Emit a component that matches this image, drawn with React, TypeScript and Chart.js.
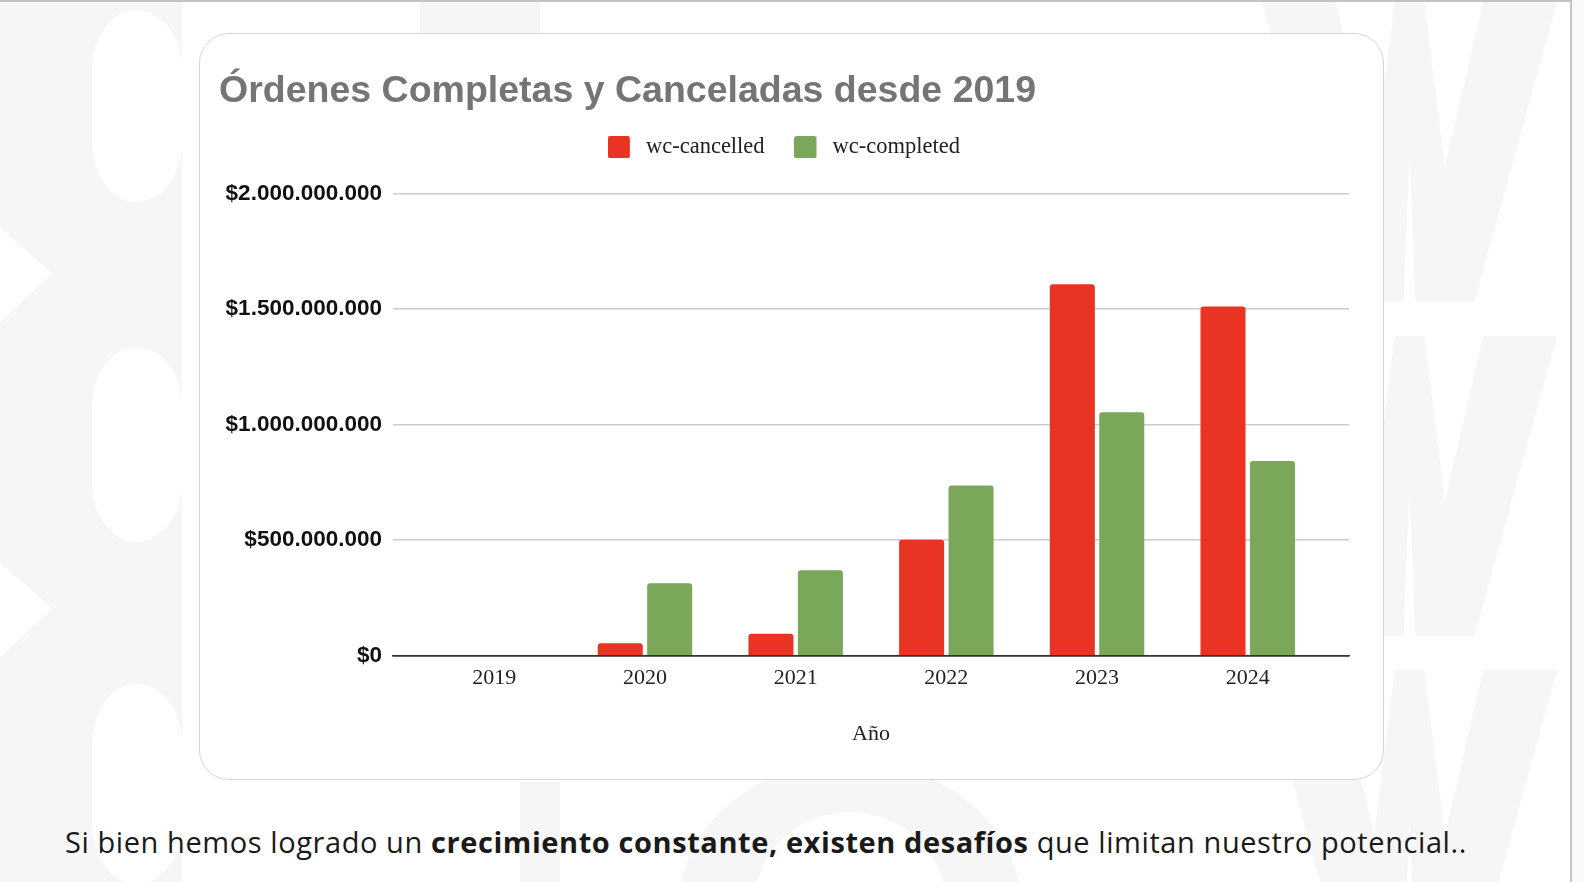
import React, { useEffect, useRef } from "react";
import { Chart, registerables } from "chart.js";

Chart.register(...registerables);

const years = ["2019", "2020", "2021", "2022", "2023", "2024"];
const cancelled = [0, 54000000, 95000000, 502000000, 1607000000, 1511000000];
const completed = [0, 314000000, 370000000, 737000000, 1054000000, 843000000];
const yTickValues = [0, 500000000, 1000000000, 1500000000, 2000000000];
const titleText = "Órdenes Completas y Canceladas desde 2019";
const seriesNames = ["wc-cancelled", "wc-completed"];
const xTitle = "Año";

const RED = "#E93424";
const GREEN = "#7AA75A";
const seriesColors = [RED, GREEN];

function fmtMoney(v: number) {
  return "$" + String(Math.round(v)).replace(/\B(?=(\d{3})+(?!\d))/g, ".");
}

function makeSwatch(color: string) {
  const c = document.createElement("canvas");
  c.width = 27;
  c.height = 22;
  const g = c.getContext("2d");
  if (g) {
    g.fillStyle = color;
    g.beginPath();
    if ((g as any).roundRect) (g as any).roundRect(0, 0, 22, 22, 2);
    else g.rect(0, 0, 22, 22);
    g.fill();
  }
  return c;
}

function ChartCard() {
  const ref = useRef<HTMLCanvasElement | null>(null);
  useEffect(() => {
    if (!ref.current) return;
    const swatches = seriesColors.map(makeSwatch);
    const baseGen = (Chart as any).defaults.plugins.legend.labels.generateLabels;
    const chart = new Chart(ref.current, {
      type: "bar",
      data: {
        datasets: [
          {
            label: seriesNames[0],
            data: cancelled.map((v, i) => ({ x: i, y: v })),
            backgroundColor: RED,
            borderRadius: 3,
            borderSkipped: "bottom",
            categoryPercentage: 0.656,
            barPercentage: 0.911,
            xAxisID: "x",
            yAxisID: "y",
          },
          {
            label: seriesNames[1],
            data: completed.map((v, i) => ({ x: i, y: v })),
            backgroundColor: GREEN,
            borderRadius: 3,
            borderSkipped: "bottom",
            categoryPercentage: 0.656,
            barPercentage: 0.911,
            xAxisID: "x",
            yAxisID: "y",
          },
        ],
      },
      options: {
        responsive: false,
        animation: false,
        devicePixelRatio: 1,
        layout: { padding: { left: 19, right: 34, top: 0, bottom: 21.8 } },
        plugins: {
          title: {
            display: true,
            text: titleText,
            align: "start",
            color: "#757575",
            font: { family: "'Liberation Sans', Arial, sans-serif", size: 37.5, weight: "bold", lineHeight: 1.2 },
            padding: { top: 35, bottom: -8 },
          },
          legend: {
            display: true,
            position: "top",
            align: "center",
            labels: {
              usePointStyle: true,
              pointStyleWidth: 26.75,
              boxWidth: 22,
              boxHeight: 22,
              padding: 30,
              color: "#222",
              font: { family: "'Liberation Serif', 'Times New Roman', serif", size: 22.5 },
              generateLabels: (c: any) => {
                const items = baseGen(c);
                items.forEach((it: any, i: number) => {
                  it.pointStyle = swatches[i % swatches.length];
                  it.lineWidth = 0;
                });
                return items;
              },
            },
          },
          tooltip: { enabled: false },
        },
        scales: {
          x: {
            type: "linear",
            position: "bottom",
            bounds: "data",
            offset: false,
            min: -0.672,
            max: 5.672,
            afterBuildTicks: (s: any) => {
              s.ticks = years.map((_, i) => ({ value: i }));
            },
            grid: { display: false, drawTicks: false, offset: false },
            border: { display: true, color: "#333", width: 1.5 },
            ticks: {
              autoSkip: false,
              maxRotation: 0,
              padding: 9.5,
              color: "#222",
              font: { family: "'Liberation Serif', 'Times New Roman', serif", size: 22 },
              callback: (v: any) => {
                const i = Math.round(Number(v));
                return years[i] !== undefined ? years[i] : "";
              },
            },
            title: {
              display: true,
              text: xTitle,
              color: "#222",
              font: { family: "'Liberation Serif', 'Times New Roman', serif", size: 22 },
              padding: { top: 19.6, bottom: 10 },
            },
          },
          xTop: {
            type: "linear",
            position: "top",
            display: true,
            offset: false,
            grid: { display: false, drawTicks: false },
            border: { display: false },
            ticks: { display: false },
            afterFit: (s: any) => {
              s.height = 25;
            },
          },
          y: {
            min: 0,
            max: 2000000000,
            grid: {
              drawTicks: false,
              color: (ctx: any) => (ctx.tick && ctx.tick.value === 0 ? "#333" : "#cccccc"),
              lineWidth: 1.5,
            },
            border: { display: false },
            afterBuildTicks: (s: any) => {
              s.ticks = yTickValues.map((v) => ({ value: v }));
            },
            afterFit: (s: any) => {
              s.width = 174;
            },
            ticks: {
              padding: 11,
              color: "#111",
              font: { family: "'Liberation Sans', Arial, sans-serif", size: 22.5, weight: "bold" },
              callback: (v: any) => fmtMoney(Number(v)),
            },
          },
        },
      } as any,
    });
    return () => chart.destroy();
  }, []);
  return (
    <canvas
      ref={ref}
      width={1183}
      height={745}
      style={{ position: "absolute", left: 0, top: 0, width: 1183, height: 745 }}
    />
  );
}

function wPoints(x0: number, y0: number, w: number, h: number) {
  const p = [
    [0, 0], [0.25, 0], [0.38, 0.55], [0.45, 0], [0.55, 0], [0.62, 0.55], [0.75, 0], [1, 0],
    [0.72, 1], [0.52, 1], [0.5, 0.5], [0.48, 1], [0.28, 1],
  ];
  return p.map(([a, b]) => `${x0 + a * w},${y0 + b * h}`).join(" ");
}

export default function App() {
  const wm = "#f6f6f6";
  return (
    <div
      style={{
        position: "absolute",
        left: 0,
        top: 0,
        width: 1584,
        height: 882,
        overflow: "hidden",
        background: "#f8f9fb",
      }}
    >
      <div
        style={{
          position: "absolute",
          left: 0,
          top: 0,
          width: 1572,
          height: 882,
          background: "#ffffff",
          borderTop: "2px solid #c4c4c4",
          borderRight: "2px solid #c4c4c4",
          boxSizing: "border-box",
        }}
      >
        <svg width={1570} height={880} style={{ position: "absolute", left: 0, top: 0 }}>
          <rect x={0} y={0} width={182} height={880} fill={wm} />
          <rect x={92} y={8} width={90} height={192} rx={60} fill="#fff" />
          <rect x={92} y={345} width={90} height={195} rx={60} fill="#fff" />
          <rect x={92} y={682} width={90} height={200} rx={60} fill="#fff" />
          <polygon points="0,225 52,272 0,320" fill="#fff" />
          <polygon points="0,560 52,607 0,655" fill="#fff" />
          <rect x={420} y={0} width={120} height={34} fill={wm} />
          <rect x={520} y={780} width={40} height={100} fill={wm} />
          <polygon points={wPoints(1262, 0, 295, 300)} fill={wm} />
          <polygon points={wPoints(1262, 334, 295, 300)} fill={wm} />
          <polygon points={wPoints(1262, 668, 295, 300)} fill={wm} />
          <ellipse cx={850} cy={900} rx={170} ry={140} fill={wm} />
          <ellipse cx={850} cy={900} rx={95} ry={90} fill="#fff" />
        </svg>
      </div>
      <div
        style={{
          position: "absolute",
          left: 199,
          top: 33,
          width: 1185,
          height: 747,
          boxSizing: "border-box",
          border: "1px solid #d6d6d6",
          borderRadius: 30,
          background: "#ffffff",
        }}
      >
        <ChartCard />
      </div>
      <div
        style={{
          position: "absolute",
          left: 65,
          top: 822,
          whiteSpace: "nowrap",
          fontFamily: "'Open Sans', sans-serif",
          fontSize: 29,
          letterSpacing: "0.58px",
          lineHeight: "40px",
          color: "#1a1a1a",
        }}
      >
        Si bien hemos logrado un <b>crecimiento constante, existen desafíos</b> que limitan nuestro potencial..
      </div>
    </div>
  );
}
